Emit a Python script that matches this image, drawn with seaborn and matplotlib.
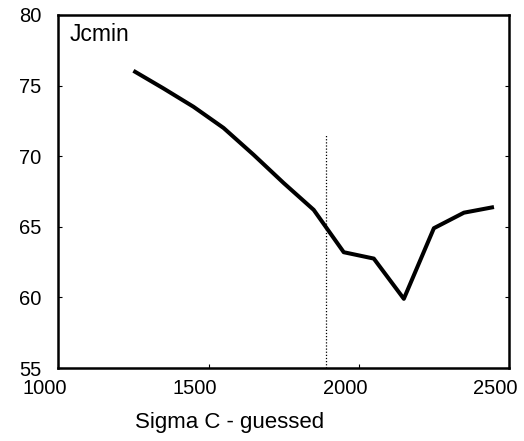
import numpy as np
import pandas as pd
import matplotlib
matplotlib.use("Agg")
import matplotlib.pyplot as plt
import matplotlib.transforms as mtransforms
import seaborn as sns

# Data
sigma_c = [1250, 1350, 1450, 1550, 1650, 1750, 1850, 1950, 2050, 2150, 2250, 2350, 2450]
jcmin = [76.05, 74.8, 73.5, 72.0, 70.1, 68.1, 66.2, 63.2, 62.75, 59.9, 64.9, 66.0, 66.4]
marker_x = 1890
marker_top = 71.6
x_ticks = [1000, 1500, 2000, 2500]
y_ticks = [55, 60, 65, 70, 75, 80]

sns.set_theme(style="white")
plt.rcParams['font.family'] = ['Liberation Sans', 'DejaVu Sans']

fig = plt.figure(figsize=(5.24, 4.41), dpi=100)
ax = fig.add_axes([58.3 / 524, 1 - 368 / 441, (509 - 58.3) / 524, (368 - 15) / 441])

df = pd.DataFrame({"Sigma C - guessed": sigma_c, "Jcmin": jcmin})
sns.lineplot(data=df, x="Sigma C - guessed", y="Jcmin", ax=ax, color="black",
             linewidth=2.9, solid_capstyle="butt")
ax.vlines(marker_x, 55, marker_top, colors="black", linestyles=(0, (1, 1.5)), linewidth=0.9)

ax.set_xlim(1000, 2500)
ax.set_ylim(55, 80)
ax.set_xticks(x_ticks)
ax.set_yticks(y_ticks)
ax.set_xticklabels([str(v) for v in x_ticks], fontsize=14.5)
ax.set_yticklabels([str(v) for v in y_ticks], fontsize=14.5)

for s in ax.spines.values():
    s.set_visible(True)
    s.set_color("black")
    s.set_linewidth(1.8)

ax.tick_params(axis="x", direction="in", length=3, width=0.8, pad=8, colors="black",
               bottom=True, top=False)
ax.tick_params(axis="y", direction="in", length=3, width=0.8, pad=12, colors="black",
               left=True, right=True)
ax.tick_params(labelcolor="black")

offset = mtransforms.ScaledTranslation(-14 / 100, 0, fig.dpi_scale_trans)
for lbl in ax.get_xticklabels():
    lbl.set_transform(lbl.get_transform() + offset)

ax.set_xlabel("Sigma C - guessed", fontsize=16, color="black")
ax.xaxis.set_label_coords(0.379, -0.125)
ax.set_ylabel("")

ax.text(0.026, 0.978, "Jcmin", transform=ax.transAxes, fontsize=16.5,
        ha="left", va="top", color="black")

fig.savefig("out.png", dpi=100)
